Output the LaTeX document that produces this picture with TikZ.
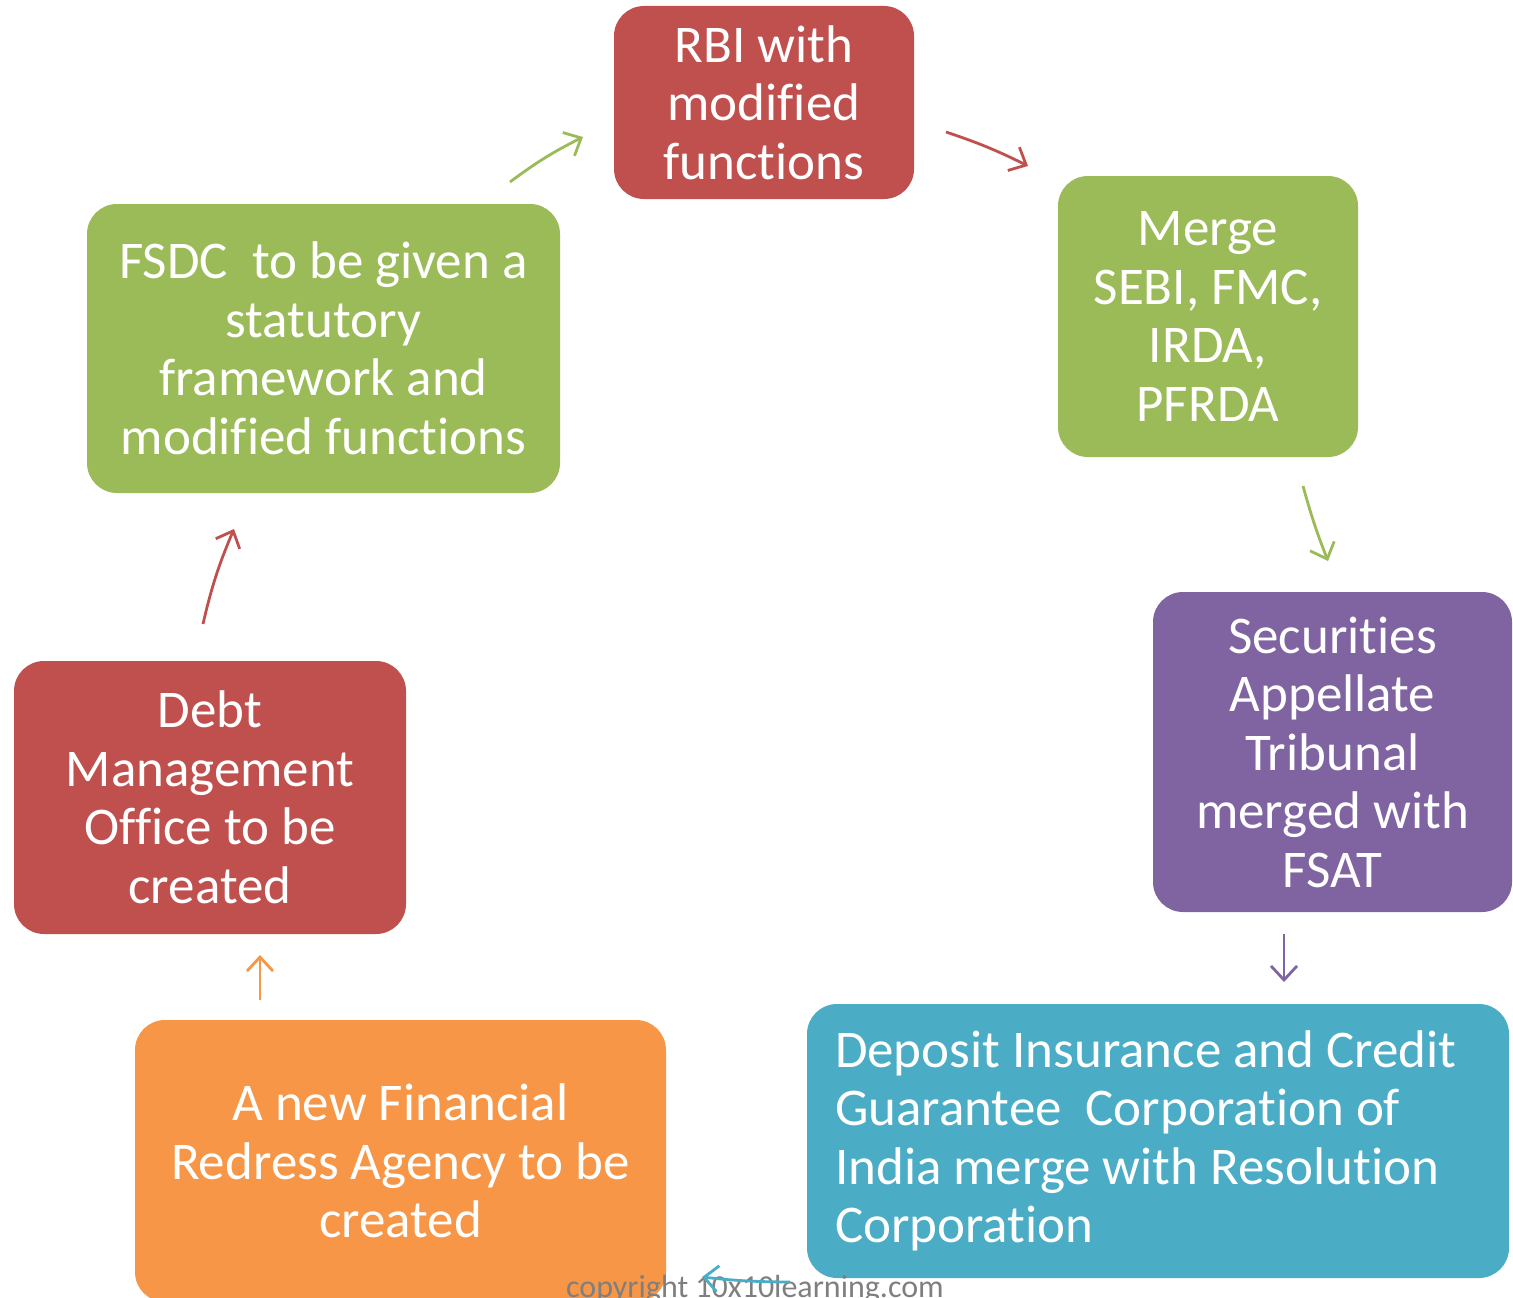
\documentclass[tikz,border=0pt]{standalone}
\usepackage{fontspec}
\setmainfont{Carlito}[Ligatures={NoCommon}]
\usetikzlibrary{arrows.meta}
\definecolor{cred}{HTML}{C0504D}
\definecolor{cgreen}{HTML}{9BBB59}
\definecolor{cpurple}{HTML}{8064A2}
\definecolor{cblue}{HTML}{4BACC6}
\definecolor{corange}{HTML}{F79646}
\definecolor{cgray}{HTML}{7F7F7F}
\tikzset{
  box/.style={rounded corners=30pt, inner sep=0pt, text=white,
    font=\fontsize{53}{58.5}\selectfont, align=center},
  conn/.style={line width=2.8pt, -{Straight Barb[length=14pt,width=26pt,line width=2.8pt]}},
}
\begin{document}
\begin{tikzpicture}[x=1pt,y=-1pt]
\useasboundingbox (0,0) rectangle (1513,1298);
\begin{scope}
\clip (0,0) rectangle (1513,1298);
\node[box, fill=cred, minimum width=300pt, minimum height=193pt] (rbi) at (764,102.5) {RBI with\\modified\\functions};
\node[box, fill=cgreen, minimum width=300pt, minimum height=281pt] (merge) at (1208,316.5) {Merge\\SEBI, FMC,\\IRDA,\\PFRDA};
\node[box, fill=cpurple, minimum width=359pt, minimum height=320pt] (sat) at (1332.5,752) {Securities\\Appellate\\Tribunal\\merged with\\FSAT};
\node[box, fill=cblue, minimum width=702pt, minimum height=274pt, align=flush left, text width=646pt] (dicgc) at (1158,1141) {Deposit Insurance and Credit\\Guarantee~ Corporation of\\India merge with Resolution\\Corporation};
\node[box, fill=corange, minimum width=531pt, minimum height=282pt] (fra) at (400.5,1161) {A new Financial\\Redress Agency to be\\created};
\node[box, fill=cred, minimum width=392pt, minimum height=273pt] (dmo) at (210,797.5) {Debt\\Management\\Office to be\\created};
\node[box, fill=cgreen, minimum width=473pt, minimum height=289pt] (fsdc) at (323.5,348.5) {FSDC~ to be given a\\statutory\\framework and\\modified functions};
\node[text=cgray, font=\fontsize{32}{38}\selectfont, anchor=base] (copy) at (755,1297) {copyright 10x10learning.com};
\end{scope}
\coordinate (a1s) at (510,182); \coordinate (a1e) at (583,137);
\coordinate (a2s) at (946,132); \coordinate (a2e) at (1028,166);
\coordinate (a3s) at (1303,486); \coordinate (a3e) at (1328,561);
\coordinate (a4s) at (1284,934); \coordinate (a4e) at (1284,982);
\coordinate (a5s) at (790,1282); \coordinate (a5e) at (702,1277);
\coordinate (a6s) at (260,1000); \coordinate (a6e) at (260,955);
\coordinate (a7s) at (203,624); \coordinate (a7e) at (234,529);
\draw[conn, draw=cgreen] (a1s) to[bend left=5] (a1e);
\draw[conn, draw=cred] (a2s) to[bend left=4] (a2e);
\draw[conn, draw=cgreen] (a3s) to[bend right=3] (a3e);
\draw[conn, draw=cpurple] (a4s) -- (a4e);
\draw[conn, draw=cblue] (a5s) to[bend left=3] (a5e);
\draw[conn, draw=corange] (a6s) -- (a6e);
\draw[conn, draw=cred] (a7s) to[bend left=5] (a7e);
\end{tikzpicture}
\end{document}
